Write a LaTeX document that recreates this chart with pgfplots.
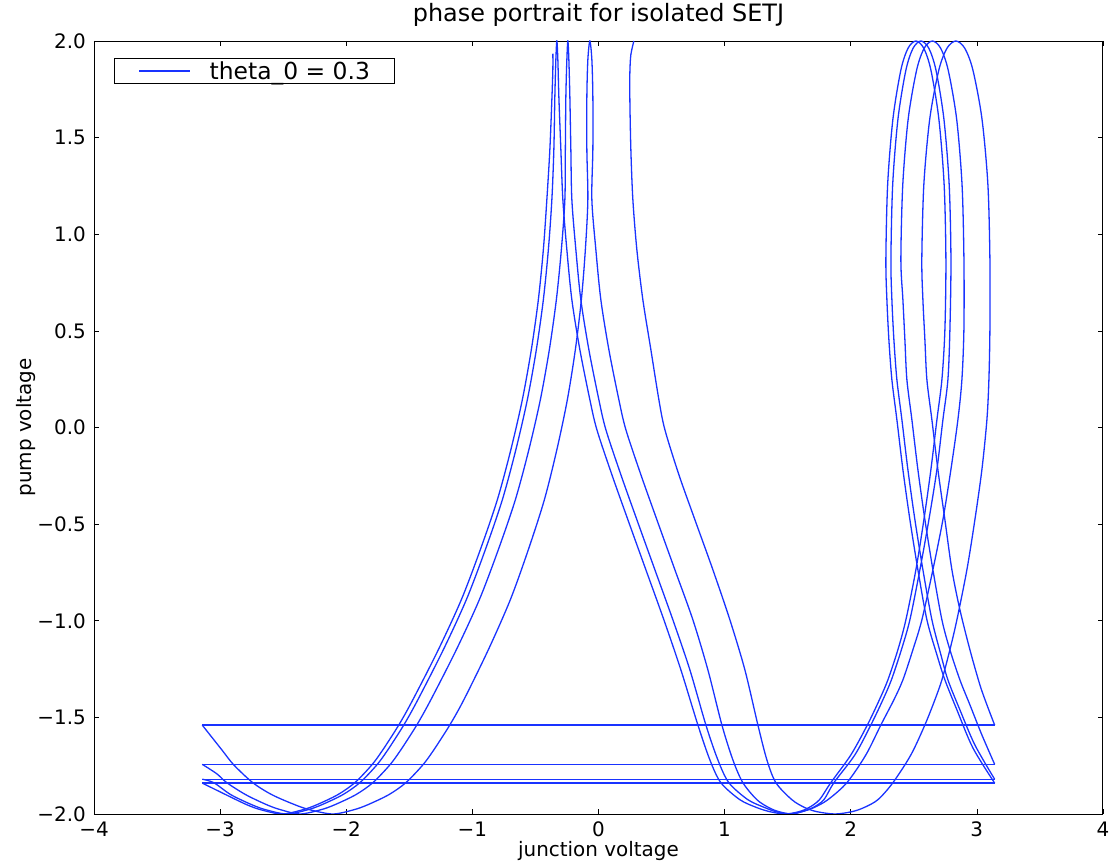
\documentclass[border=0pt]{standalone}
\usepackage{fontspec}
\setmainfont{DejaVu Sans}
\usepackage{pgfplots}
\pgfplotsset{compat=1.18}
\definecolor{mplblue}{rgb}{0.1,0.2,1}
\begin{document}
\begin{tikzpicture}
\begin{axis}[
  at={(0,0)}, anchor=south west,
  scale only axis, width=1009bp, height=773bp,
  xmin=-4, xmax=4, ymin=-2, ymax=2,
  xtick={-4,-3,-2,-1,0,1,2,3,4},
  xticklabels={−4,−3,−2,−1,0,1,2,3,4},
  ytick={-2,-1.5,-1,-0.5,0,0.5,1,1.5,2},
  yticklabels={−2.0,−1.5,−1.0,−0.5,0.0,0.5,1.0,1.5,2.0},
  tick align=inside, major tick length=5bp,
  every tick/.style={black, line width=0.6bp},
  axis line style={black, line width=0.9bp},
  xticklabel style={font=\fontsize{20}{20}\selectfont, anchor=base, yshift=-22bp, inner sep=0bp},
  yticklabel style={font=\fontsize{20}{20}\selectfont, anchor=east, xshift=-8bp, inner sep=0bp},
  title={phase portrait for isolated SETJ},
  title style={at={(axis description cs:0.5,1.0181)}, anchor=base, yshift=0pt, font=\fontsize{24}{24}\selectfont, inner sep=0bp},
  xlabel={junction voltage},
  xlabel style={at={(axis description cs:0.5,-0.0556)}, anchor=base, font=\fontsize{20}{20}\selectfont, inner sep=0bp},
  ylabel={pump voltage},
  ylabel style={at={(axis description cs:-0.0624,0.5)}, anchor=base, font=\fontsize{20}{20}\selectfont, inner sep=0bp},
  legend style={at={(axis description cs:0.0198,0.978)}, anchor=north west, draw=black, line width=0.8bp, fill=white, inner xsep=24bp, inner ysep=3bp, font=\fontsize{23.5}{23.5}\selectfont, column sep=19bp, nodes={inner sep=0bp}},
  legend cell align=left,
  legend image code/.code={\draw[#1, draw=mplblue, line width=1.3bp] (0bp,0bp) -- (51bp,0bp);},
]
\addplot[color=mplblue, line width=1.3bp, smooth, tension=0.5] coordinates {
(0.2807,2.0) (0.2569,1.929) (0.2490,1.836) (0.2490,1.696) (0.2569,1.438) (0.2728,1.179) (0.3045,0.920) (0.3521,0.661) (0.4155,0.403) (0.4790,0.144) (0.5266,-0.011) (0.6376,-0.244) (0.7645,-0.477) (0.9072,-0.736) (1.0420,-0.995) (1.1610,-1.254) (1.2641,-1.539) (1.3355,-1.720) (1.4069,-1.838) (1.5337,-1.926) (1.6368,-1.967) (1.7320,-1.988) (1.8747,-2.0) (2.0095,-1.988) (2.1047,-1.967) (2.2157,-1.926) (2.3347,-1.838) (2.4774,-1.694) (2.5884,-1.539) (2.6677,-1.409) (2.7232,-1.306) (2.7867,-1.150) (2.8422,-0.995) (2.9215,-0.736) (2.9849,-0.477) (3.0404,-0.218) (3.0801,0.040) (3.0959,0.247) (3.1039,0.506) (3.104,0.868) (3.088,1.256) (3.041,1.597) (2.969,1.850) (2.904,1.963) (2.834,2.0) (2.764,1.963) (2.699,1.850) (2.627,1.597) (2.580,1.256) (2.564,0.868) (2.5726,0.661) (2.5884,0.454) (2.6043,0.247) (2.6439,0.040) (2.6915,-0.218) (2.7470,-0.477) (2.8025,-0.736) (2.8660,-0.943) (2.9453,-1.150) (3.0246,-1.332) (3.0801,-1.435) (3.1416,-1.54)
};
\addlegendentry{theta\_0 = 0.3}
\addplot[color=mplblue, line width=1.3bp, smooth, tension=0.5, forget plot] coordinates {
(-3.1416,-1.54) (-2.9865,-1.668) (-2.8914,-1.746) (-2.7407,-1.838) (-2.5900,-1.900) (-2.4076,-1.952) (-2.2887,-1.978) (-2.1063,-2.0) (-1.9397,-1.978) (-1.8287,-1.952) (-1.6622,-1.900) (-1.5273,-1.838) (-1.3925,-1.746) (-1.3053,-1.668) (-1.1784,-1.539) (-1.0674,-1.409) (-0.8731,-1.150) (-0.6987,-0.891) (-0.5559,-0.632) (-0.4290,-0.374) (-0.3299,-0.115) (-0.2466,0.144) (-0.1832,0.403) (-0.1356,0.661) (-0.1039,0.920) (-0.0841,1.179) (-0.0920,1.438) (-0.0920,1.712) (-0.0841,1.903) (-0.0682,2.0) (-0.0523,1.903) (-0.0444,1.712) (-0.0444,1.438) (-0.0523,1.179) (-0.0206,0.920) (0.0190,0.661) (0.0825,0.403) (0.1618,0.144) (0.2173,-0.011) (0.3362,-0.244) (0.4631,-0.477) (0.6059,-0.736) (0.7486,-0.995) (0.8676,-1.254) (0.9786,-1.539) (1.0658,-1.720) (1.1451,-1.838) (1.2561,-1.926) (1.3513,-1.967) (1.4306,-1.988) (1.5337,-2.0) (1.6130,-1.988) (1.7082,-1.967) (1.8192,-1.926) (1.9699,-1.838) (2.1205,-1.694) (2.2395,-1.539) (2.3426,-1.409) (2.4140,-1.306) (2.4933,-1.150) (2.5646,-0.995) (2.6519,-0.736) (2.7312,-0.477) (2.7946,-0.218) (2.8501,0.040) (2.8818,0.247) (2.8977,0.506) (2.898,0.868) (2.883,1.256) (2.840,1.597) (2.773,1.850) (2.713,1.963) (2.648,2.0) (2.583,1.963) (2.523,1.850) (2.456,1.597) (2.413,1.256) (2.398,0.868) (2.4140,0.661) (2.4298,0.454) (2.4457,0.247) (2.4853,0.040) (2.5329,-0.218) (2.5884,-0.477) (2.6519,-0.736) (2.7232,-0.995) (2.7867,-1.150) (2.8660,-1.306) (2.9453,-1.435) (3.0404,-1.591) (3.1416,-1.743)
};
\addplot[color=mplblue, line width=1.3bp, smooth, tension=0.5, forget plot] coordinates {
(-3.1416,-1.743) (-3.0262,-1.792) (-2.9469,-1.838) (-2.7971,-1.900) (-2.6305,-1.952) (-2.5195,-1.978) (-2.3679,-2.0) (-2.2014,-1.978) (-2.0904,-1.952) (-1.9239,-1.900) (-1.7890,-1.838) (-1.6542,-1.746) (-1.5670,-1.668) (-1.4401,-1.539) (-1.3291,-1.409) (-1.1269,-1.150) (-0.9445,-0.891) (-0.7938,-0.632) (-0.6590,-0.374) (-0.5519,-0.115) (-0.4607,0.144) (-0.3894,0.403) (-0.3339,0.661) (-0.2942,0.920) (-0.2664,1.179) (-0.2625,1.438) (-0.2585,1.712) (-0.2506,1.903) (-0.2426,2.0) (-0.2347,1.903) (-0.2268,1.712) (-0.2189,1.438) (-0.2109,1.179) (-0.1792,0.920) (-0.1396,0.661) (-0.0761,0.403) (0.0032,0.144) (0.0587,-0.011) (0.1776,-0.244) (0.3045,-0.477) (0.4473,-0.736) (0.5900,-0.995) (0.7248,-1.254) (0.8517,-1.539) (0.9469,-1.720) (1.0341,-1.838) (1.1848,-1.926) (1.3196,-1.967) (1.4068,-1.988) (1.5099,-2.0) (1.6130,-1.988) (1.7002,-1.967) (1.7875,-1.926) (1.8668,-1.838) (2.0333,-1.694) (2.1602,-1.539) (2.2554,-1.409) (2.3228,-1.306) (2.4021,-1.150) (2.4695,-0.995) (2.5488,-0.736) (2.6202,-0.477) (2.6836,-0.218) (2.7312,0.040) (2.7708,0.247) (2.7867,0.506) (2.795,0.868) (2.781,1.256) (2.739,1.597) (2.676,1.850) (2.619,1.963) (2.557,2.0) (2.495,1.963) (2.438,1.850) (2.375,1.597) (2.333,1.256) (2.319,0.868) (2.3267,0.661) (2.3426,0.454) (2.3664,0.247) (2.4061,0.040) (2.4536,-0.218) (2.5091,-0.477) (2.5726,-0.736) (2.6439,-0.995) (2.7153,-1.176) (2.7708,-1.306) (2.8660,-1.461) (2.9849,-1.643) (3.1416,-1.82)
};
\addplot[color=mplblue, line width=1.3bp, smooth, tension=0.5, forget plot] coordinates {
(-3.1416,-1.82) (-3.0500,-1.838) (-2.9151,-1.900) (-2.7486,-1.952) (-2.6376,-1.978) (-2.4710,-2.0) (-2.3045,-1.978) (-2.1935,-1.952) (-2.0270,-1.900) (-1.8921,-1.838) (-1.7573,-1.746) (-1.6701,-1.668) (-1.5432,-1.539) (-1.4322,-1.409) (-1.2300,-1.150) (-1.0476,-0.891) (-0.8969,-0.632) (-0.7621,-0.374) (-0.6550,-0.115) (-0.5638,0.144) (-0.4925,0.403) (-0.4370,0.661) (-0.3973,0.920) (-0.3695,1.179) (-0.3537,1.438) (-0.3458,1.712) (-0.3378,1.903) (-0.3299,2.0) (-0.3220,1.903) (-0.3140,1.712) (-0.2981,1.438) (-0.2823,1.179) (-0.2506,0.920) (-0.2109,0.661) (-0.1475,0.403) (-0.0682,0.144) (-0.0127,-0.011) (0.1063,-0.244) (0.2332,-0.477) (0.3759,-0.736) (0.5186,-0.995) (0.6535,-1.254) (0.7883,-1.539) (0.8834,-1.720) (0.9707,-1.838) (1.1213,-1.926) (1.2561,-1.967) (1.3593,-1.988) (1.4782,-2.0) (1.5892,-1.988) (1.6685,-1.967) (1.7526,-1.926) (1.8422,-1.838) (2.0016,-1.694) (2.1324,-1.539) (2.2276,-1.409) (2.2950,-1.306) (2.3743,-1.150) (2.4378,-0.995) (2.5171,-0.736) (2.5805,-0.477) (2.6360,-0.218) (2.6836,0.040) (2.7232,0.247) (2.7470,0.506) (2.755,0.868) (2.741,1.256) (2.699,1.597) (2.636,1.850) (2.579,1.963) (2.517,2.0) (2.455,1.963) (2.398,1.850) (2.335,1.597) (2.293,1.256) (2.279,0.868) (2.2871,0.661) (2.3029,0.454) (2.3267,0.247) (2.3664,0.040) (2.4140,-0.218) (2.4695,-0.477) (2.5329,-0.736) (2.6043,-0.995) (2.6836,-1.176) (2.7470,-1.306) (2.8422,-1.461) (2.9691,-1.658) (3.1416,-1.84)
};
\addplot[color=mplblue, line width=1.3bp, smooth, tension=0.5, forget plot] coordinates {
(-3.1416,-1.84) (-2.9548,-1.900) (-2.7883,-1.952) (-2.6773,-1.978) (-2.5107,-2.0) (-2.3442,-1.978) (-2.2332,-1.952) (-2.0667,-1.900) (-1.9318,-1.838) (-1.7970,-1.746) (-1.7098,-1.668) (-1.5829,-1.539) (-1.4719,-1.409) (-1.2697,-1.150) (-1.0873,-0.891) (-0.9366,-0.632) (-0.8018,-0.374) (-0.6947,-0.115) (-0.6035,0.144) (-0.5322,0.403) (-0.4767,0.661) (-0.4370,0.920) (-0.4092,1.179) (-0.3854,1.438) (-0.3695,1.696) (-0.3616,1.852) (-0.3616,1.934)
};
\addplot[color=mplblue, line width=1.3bp, forget plot] coordinates {(3.1416,-1.54) (-3.1416,-1.54)};
\addplot[color=mplblue, line width=1.3bp, forget plot] coordinates {(3.1416,-1.743) (-3.1416,-1.743)};
\addplot[color=mplblue, line width=1.3bp, forget plot] coordinates {(3.1416,-1.82) (-3.1416,-1.82)};
\addplot[color=mplblue, line width=1.3bp, forget plot] coordinates {(3.1416,-1.84) (-3.1416,-1.84)};
\end{axis}
\pgfresetboundingbox
\path[use as bounding box] (-94bp,-47bp) rectangle (1021bp,814bp);
\end{tikzpicture}
\end{document}
